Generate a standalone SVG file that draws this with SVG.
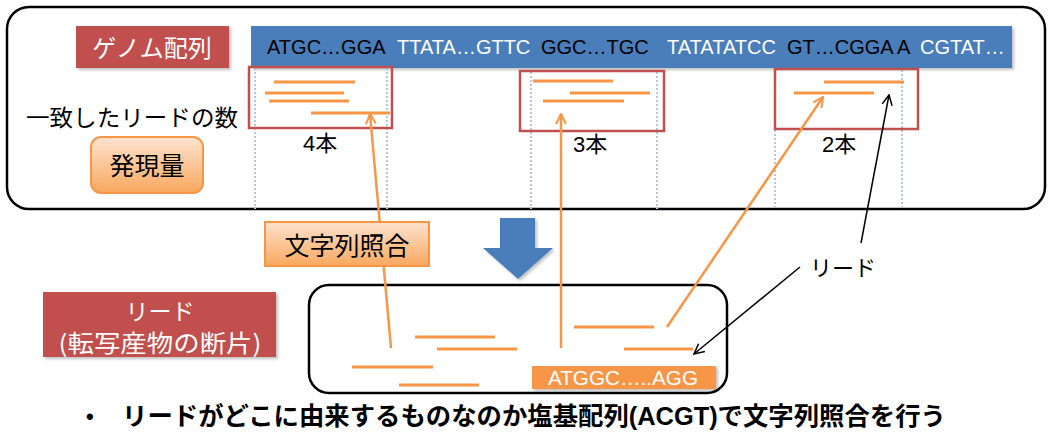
<svg xmlns="http://www.w3.org/2000/svg" width="1055" height="438" viewBox="0 0 1055 438">
<defs>
<linearGradient id="peach" x1="0" y1="0" x2="0" y2="1">
<stop offset="0" stop-color="#fde3cf"/>
<stop offset="1" stop-color="#f9a85e"/>
</linearGradient>
<filter id="sh" x="-5%" y="-10%" width="115%" height="130%">
<feDropShadow dx="2" dy="2" stdDeviation="1.5" flood-color="#000" flood-opacity="0.25"/>
</filter>
<marker id="ao" viewBox="0 0 12 12" refX="11" refY="6" markerWidth="12" markerHeight="12" markerUnits="userSpaceOnUse" orient="auto">
<path d="M1,1 L11,6 L1,11" fill="none" stroke="#f79646" stroke-width="2"/>
</marker>
<marker id="ab" viewBox="0 0 12 12" refX="11" refY="6" markerWidth="12" markerHeight="12" markerUnits="userSpaceOnUse" orient="auto">
<path d="M1,1 L11,6 L1,11" fill="none" stroke="#000" stroke-width="1.5"/>
</marker>
</defs>
<style>
text{font-family:'Liberation Sans','Noto Sans CJK JP',sans-serif;}
.jp{font-family:'Noto Sans CJK JP','Liberation Sans',sans-serif;}
.read{stroke:#f79646;stroke-width:3;fill:none;}
.dot{stroke:#b4c7e2;stroke-width:2;stroke-dasharray:2 2;fill:none;}
.hit{fill:none;stroke:#c0504d;stroke-width:2.5;}
.frame{fill:#fff;stroke:#000;stroke-width:2.5;}
.redlbl{fill:#c0504d;filter:url(#sh);}
.peach{fill:url(#peach);stroke:#f79646;stroke-width:2;}
.oarr{stroke:#f79646;stroke-width:2.5;fill:none;marker-end:url(#ao);}
.barr{stroke:#000;stroke-width:1.5;fill:none;marker-end:url(#ab);}
</style>

<g id="genome-panel">
<rect class="frame" x="7" y="7" width="1038" height="202" rx="22"/>
</g>

<g id="genome-label">
<rect class="redlbl" x="76" y="26" width="153" height="42"/>
<text class="jp" x="152" y="57" font-size="24" fill="#fff" text-anchor="middle">ゲノム配列</text>
</g>

<g id="genome-sequence">
<rect x="251" y="26" width="761" height="42" fill="#4a7ebb" filter="url(#sh)"/>
<text y="54" font-size="20">
<tspan x="267" fill="#000">ATGC…GGA</tspan>
<tspan x="397" fill="#fff">TTATA…GTTC</tspan>
<tspan x="541" fill="#000">GGC…TGC</tspan>
<tspan x="667" fill="#fff">TATATATCC</tspan>
<tspan x="787" fill="#000">GT…CGGA A</tspan>
<tspan x="920" fill="#fff">CGTAT…</tspan>
</text>
</g>

<g id="dotted-guides">
<line class="dot" x1="255" y1="68" x2="255" y2="209"/>
<line class="dot" x1="387" y1="68" x2="387" y2="209"/>
<line class="dot" x1="531" y1="72" x2="531" y2="209"/>
<line class="dot" x1="657" y1="72" x2="657" y2="209"/>
<line class="dot" x1="775" y1="70" x2="775" y2="211"/>
<line class="dot" x1="902" y1="70" x2="902" y2="211"/>
</g>

<g id="match-count-label">
<text class="jp" x="26" y="126" font-size="23" textLength="212" lengthAdjust="spacingAndGlyphs">一致したリードの数</text>
</g>

<g id="expression-label">
<rect class="peach" x="91" y="137" width="112" height="56" rx="10"/>
<text class="jp" x="147" y="175" font-size="25" text-anchor="middle">発現量</text>
</g>

<g id="hit-1">
<rect class="hit" x="249" y="67" width="143" height="61"/>
<line class="read" x1="274" y1="82" x2="355" y2="82"/>
<line class="read" x1="265" y1="93" x2="344" y2="93"/>
<line class="read" x1="269" y1="101" x2="349" y2="101"/>
<line class="read" x1="311" y1="113" x2="390" y2="113"/>
<text x="303" y="151" font-size="22">4本</text>
</g>

<g id="hit-2">
<rect class="hit" x="520" y="71" width="144" height="60"/>
<line class="read" x1="533" y1="81" x2="613" y2="81"/>
<line class="read" x1="570" y1="93" x2="650" y2="93"/>
<line class="read" x1="543" y1="101" x2="624" y2="101"/>
<text x="573" y="152" font-size="22">3本</text>
</g>

<g id="hit-3">
<rect class="hit" x="775" y="69" width="143" height="60"/>
<line class="read" x1="824" y1="82" x2="904" y2="82"/>
<line class="read" x1="794" y1="93" x2="874" y2="93"/>
<text x="822" y="152" font-size="22">2本</text>
</g>

<g id="blue-down-arrow">
<path d="M500,218 L535,218 L535,248 L553,248 L518,279 L483,248 L500,248 Z" fill="#4a7ebb" filter="url(#sh)"/>
</g>

<g id="reads-label">
<rect class="redlbl" x="43" y="292" width="233" height="65"/>
<text class="jp" x="160" y="320" font-size="23" fill="#fff" text-anchor="middle">リード</text>
<text class="jp" x="160" y="352" font-size="24" fill="#fff" text-anchor="middle" textLength="203" lengthAdjust="spacingAndGlyphs">(転写産物の断片)</text>
</g>

<g id="reads-panel">
<rect class="frame" x="309" y="285" width="418" height="108" rx="20"/>
<line class="read" x1="415" y1="337" x2="495" y2="337"/>
<line class="read" x1="437" y1="349" x2="517" y2="349"/>
<line class="read" x1="352" y1="367" x2="433" y2="367"/>
<line class="read" x1="399" y1="385" x2="479" y2="385"/>
<line class="read" x1="574" y1="327" x2="654" y2="327"/>
<line class="read" x1="624" y1="349" x2="693" y2="349"/>
</g>

<g id="connectors">
<line class="oarr" x1="391" y1="348" x2="370" y2="114"/>
<line class="oarr" x1="561" y1="348" x2="561" y2="114"/>
<line class="oarr" x1="667" y1="327" x2="823" y2="97"/>
<line class="barr" x1="861" y1="243" x2="889" y2="95"/>
<line class="barr" x1="800" y1="267" x2="694" y2="354"/>
</g>

<g id="matching-label">
<rect class="peach" x="265" y="222" width="164" height="44"/>
<text class="jp" x="347" y="255" font-size="25" text-anchor="middle">文字列照合</text>
</g>

<g id="read-callout">
<text class="jp" x="810" y="276" font-size="22">リード</text>
</g>

<g id="read-sequence">
<rect x="532" y="366" width="184" height="23" fill="#f79646" filter="url(#sh)"/>
<text x="623" y="385" font-size="20" fill="#fff" text-anchor="middle" textLength="150" lengthAdjust="spacingAndGlyphs">ATGGC…..AGG</text>
</g>

<g id="caption">
<text x="86" y="424" font-size="22" font-weight="bold">•</text>
<text x="122" y="425" font-size="25" font-weight="bold" textLength="824" lengthAdjust="spacingAndGlyphs">リードがどこに由来するものなのか塩基配列(ACGT)で文字列照合を行う</text>
</g>
</svg>
